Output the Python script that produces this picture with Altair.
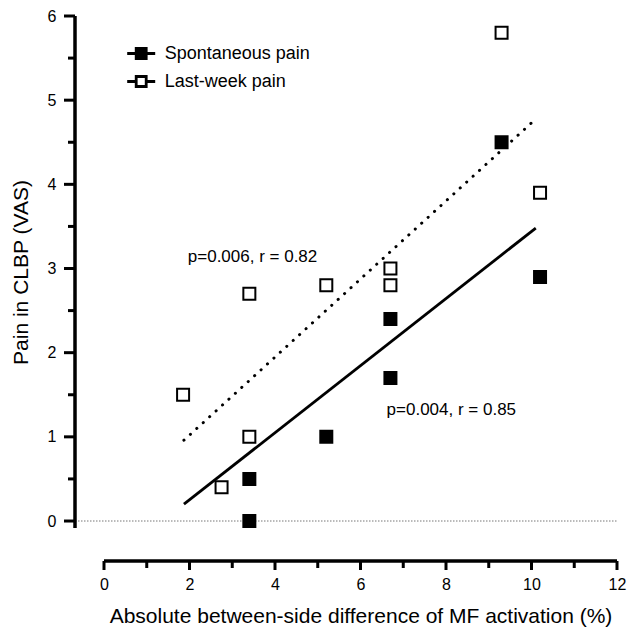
import altair as alt
import pandas as pd

FONT = "Liberation Sans"

series_names = ["Spontaneous pain", "Last-week pain"]
spont_x = [3.4, 3.4, 5.2, 6.7, 6.7, 9.3, 10.2]
spont_y = [0.0, 0.5, 1.0, 2.4, 1.7, 4.5, 2.9]
week_x = [1.85, 2.75, 3.4, 3.4, 5.2, 6.7, 6.7, 9.3, 10.2]
week_y = [1.5, 0.4, 1.0, 2.7, 2.8, 2.8, 3.0, 5.8, 3.9]
fit_spont_x = [1.87, 10.1]
fit_spont_y = [0.2, 3.48]
fit_week_x = [1.87, 10.0]
fit_week_y = [0.96, 4.73]
annot_text = ["p=0.006, r = 0.82", "p=0.004, r = 0.85"]
annot_x = [1.96, 6.61]
annot_y = [3.08, 1.26]
x_major = [0, 2, 4, 6, 8, 10, 12]
x_minor = [1, 3, 5, 7, 9, 11]
y_major = [0, 1, 2, 3, 4, 5, 6]
y_minor = [0.5, 1.5, 2.5, 3.5, 4.5, 5.5]

W, H = 513, 512
X_DOM = [0, 12]
Y_DOM = [-0.083, 6]
X_OFF, Y_OFF = 33, 29
AXW = 3.5  # axis line weight
TKW = 3.0  # tick weight

points = pd.DataFrame({
    "x": spont_x + week_x,
    "y": spont_y + week_y,
    "series": [series_names[0]] * len(spont_x) + [series_names[1]] * len(week_x),
})
fit_s = pd.DataFrame({"x": fit_spont_x, "y": fit_spont_y})
fit_w = pd.DataFrame({"x": fit_week_x, "y": fit_week_y})
annots = pd.DataFrame({"x": annot_x, "y": annot_y, "t": annot_text})
zero = pd.DataFrame({"y": [0]})

x_axis = alt.Axis(
    values=x_major, format="d", ticks=False, tickSize=0, domain=False,
    labelFontSize=16, labelPadding=15, labelFont=FONT, labelColor="black",
    labelOverlap=False, labelFlush=False, labelBound=False,
    title="Absolute between-side difference of MF activation (%)",
    titleFont=FONT, titleFontSize=21, titleFontWeight="normal", titleColor="black",
    titlePadding=13, offset=X_OFF, grid=False,
)
y_axis = alt.Axis(
    values=y_major, format="d", ticks=False, tickSize=0, domain=False,
    labelFontSize=16, labelPadding=19, labelFont=FONT, labelColor="black",
    labelOverlap=False, labelFlush=False, labelBound=False,
    title="Pain in CLBP (VAS)",
    titleFont=FONT, titleFontSize=21, titleFontWeight="normal", titleColor="black",
    titlePadding=16, offset=Y_OFF, grid=False,
)

def xe(field="x"):
    return alt.X(f"{field}:Q", scale=alt.Scale(domain=X_DOM, nice=False, zero=False), axis=x_axis)

def ye(field="y"):
    return alt.Y(f"{field}:Q", scale=alt.Scale(domain=Y_DOM, nice=False, zero=False), axis=y_axis)

# axis lines (filled rects) and tick marks
x_line = alt.Chart(pd.DataFrame({"x": [X_DOM[0]], "x2": [X_DOM[1]]})).mark_rect(
    color="black", strokeWidth=0
).encode(x=xe(), x2="x2:Q", y=alt.value(H + X_OFF - AXW / 2), y2=alt.value(H + X_OFF + AXW / 2))
y_line = alt.Chart(pd.DataFrame({"y": [Y_DOM[0]], "y2": [Y_DOM[1]]})).mark_rect(
    color="black", strokeWidth=0
).encode(y=ye(), y2="y2:Q", x=alt.value(-Y_OFF - AXW / 2), x2=alt.value(-Y_OFF + AXW / 2))
x_maj = alt.Chart(pd.DataFrame({"x": x_major})).mark_tick(
    color="black", orient="vertical", size=9, thickness=TKW, opacity=1
).encode(x=xe(), y=alt.value(H + X_OFF + 4.5))
x_min = alt.Chart(pd.DataFrame({"x": x_minor})).mark_tick(
    color="black", orient="vertical", size=7, thickness=TKW, opacity=1
).encode(x=xe(), y=alt.value(H + X_OFF + 3.5))
y_maj = alt.Chart(pd.DataFrame({"y": y_major})).mark_tick(
    color="black", orient="horizontal", size=11, thickness=TKW, opacity=1
).encode(y=ye(), x=alt.value(-Y_OFF - 5.5))
y_min = alt.Chart(pd.DataFrame({"y": y_minor})).mark_tick(
    color="black", orient="horizontal", size=7, thickness=TKW, opacity=1
).encode(y=ye(), x=alt.value(-Y_OFF - 3.5))

zero_rule = alt.Chart(zero).mark_rule(color="#777777", strokeWidth=1, strokeDash=[1.5, 1.5]).encode(
    y=ye(), x=alt.value(-Y_OFF), x2=alt.value(W)
)

line_s = alt.Chart(fit_s).mark_line(color="black", strokeWidth=2.8).encode(x=xe(), y=ye())
line_w = alt.Chart(fit_w).mark_line(
    color="black", strokeWidth=3, strokeDash=[0.1, 8.6], strokeCap="round"
).encode(x=xe(), y=ye())

pts = alt.Chart(points).mark_point(
    shape="square", filled=True, size=144, stroke="black", strokeWidth=2, opacity=1
).encode(
    x=xe(), y=ye(),
    fill=alt.Fill(
        "series:N",
        scale=alt.Scale(domain=series_names, range=["black", "white"]),
        legend=alt.Legend(
            title=None, orient="none", legendX=25.7, legendY=26,
            symbolType="M-1.4,0H-0.5M0.5,0H1.4M-0.5,-0.5H0.5V0.5H-0.5Z",
            symbolSize=400, symbolStrokeColor="black", symbolStrokeWidth=2.8,
            symbolOpacity=1,
            labelFontSize=18, labelFont=FONT, labelColor="black",
            labelOffset=12, rowPadding=5, padding=0,
        ),
    ),
)

text = alt.Chart(annots).mark_text(
    align="left", baseline="alphabetic", fontSize=17, font=FONT, color="black"
).encode(x=xe(), y=ye(), text="t:N")

chart = alt.layer(
    zero_rule, x_line, y_line, x_maj, x_min, y_maj, y_min, line_s, line_w, pts, text
).properties(
    width=W, height=H,
    padding={"left": 104, "top": 16, "right": 11, "bottom": 99},
    autosize=alt.AutoSizeParams(type="none"),
    background="white",
).configure_view(stroke=None)

chart.save("out.html", embed_options={"renderer": "svg", "actions": False})
